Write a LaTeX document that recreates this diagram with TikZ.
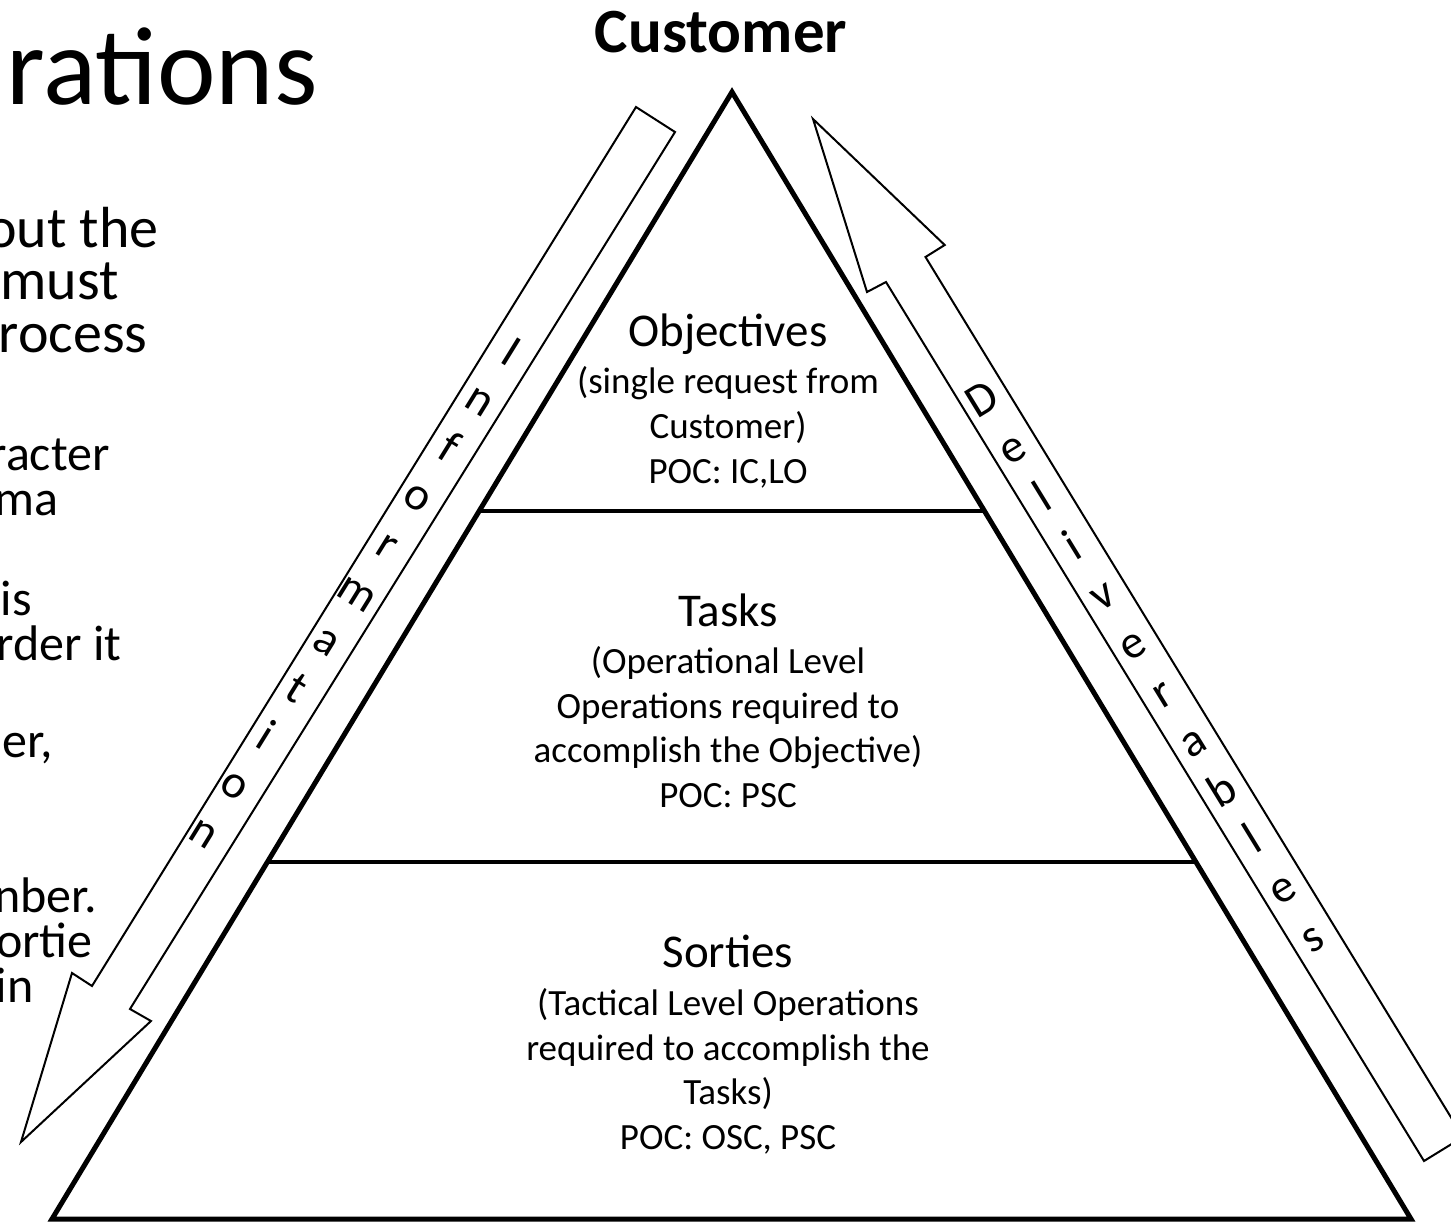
\documentclass[tikz,border=0pt]{standalone}
\usepackage{fontspec}
\setmainfont{Carlito}
\usetikzlibrary{calc}
\begin{document}
\begin{tikzpicture}[x=0.5pt,y=-0.5pt,
  tri/.style={line width=2.5pt, line join=miter},
  divider/.style={line width=2.2pt},
  arrowshape/.style={line width=1pt, line join=miter},
  slidetitle/.style={font=\fontsize{55.5}{60}\selectfont, anchor=base east, inner sep=0pt},
  lvlone/.style={font=\fontsize{29}{34}\selectfont, anchor=base east, inner sep=0pt},
  lvltwo/.style={font=\fontsize{25}{30}\selectfont, anchor=base east, inner sep=0pt},
  head/.style={font=\bfseries\fontsize{31.5}{36}\selectfont, anchor=base, inner sep=0pt},
  blocktitle/.style={font=\fontsize{23.5}{28}\selectfont, anchor=base, inner sep=0pt},
  blockline/.style={font=\fontsize{18.5}{22}\selectfont, anchor=base, inner sep=0pt},
  letter/.style={font=\fontsize{23.5}{27}\selectfont, inner sep=0pt, text height=1.1ex, text depth=0pt, anchor=center}
]
\useasboundingbox (0,0) rectangle (1451,1222);
\clip (0,0) rectangle (1451,1222);

% slide text fragments (cut at left edge)
\node[slidetitle] (t0) at (318,104) {rations};
\node[lvlone] (p1a) at (159,247) {out the};
\node[lvlone] (p1b) at (119,299) {must};
\node[lvlone] (p1c) at (148,352) {rocess};
\node[lvltwo] (p2a) at (110,470) {racter};
\node[lvltwo] (p2b) at (59,515) {ma};
\node[lvltwo] (p3a) at (32,615) {is};
\node[lvltwo] (p3b) at (122,660) {rder it};
\node[lvltwo] (p4a) at (53,757) {er,};
\node[lvltwo] (p5a) at (97,912) {nber.};
\node[lvltwo] (p5b) at (93,957) {ortie};
\node[lvltwo] (p5c) at (34,1002) {in};

% pyramid
\coordinate (apex) at (732,92);
\coordinate (bl) at (52,1219);
\coordinate (br) at (1411,1219);
\draw[tri] (apex) -- (bl) -- (br) -- cycle;
\coordinate (d1l) at ($(apex)!{(511-92)/(1219-92)}!(bl)$);
\coordinate (d1r) at ($(apex)!{(511-92)/(1219-92)}!(br)$);
\coordinate (d2l) at ($(apex)!{(862-92)/(1219-92)}!(bl)$);
\coordinate (d2r) at ($(apex)!{(862-92)/(1219-92)}!(br)$);
\draw[divider] (d1l) -- (d1r);
\draw[divider] (d2l) -- (d2r);

\node[head] (cust) at (721,52) {Customer};

\node[blocktitle] (obj) at (728,346) {Objectives};
\node[blockline] (obj1) at (728,393) {(single request from};
\node[blockline] (obj2) at (728,438) {Customer)};
\node[blockline] (obj3) at (728,483) {POC: IC,LO};

\node[blocktitle] (tsk) at (728,626) {Tasks};
\node[blockline] (tsk1) at (728,673) {(Operational Level};
\node[blockline] (tsk2) at (728,718) {Operations required to};
\node[blockline] (tsk3) at (728,762) {accomplish the Objective)};
\node[blockline] (tsk4) at (728,807) {POC: PSC};

\node[blocktitle] (srt) at (728,967) {Sorties};
\node[blockline] (srt1) at (728,1015) {(Tactical Level Operations};
\node[blockline] (srt2) at (728,1060) {required to accomplish the};
\node[blockline] (srt3) at (728,1104) {Tasks)};
\node[blockline] (srt4) at (728,1149) {POC: OSC, PSC};

% Information arrow (down-left)
\coordinate (la1) at (636,107);
\coordinate (la2) at (92,986);
\coordinate (la3) at (72,973);
\coordinate (latip) at (21,1142);
\coordinate (la5) at (151,1021);
\coordinate (la6) at (130,1009);
\coordinate (la7) at (675,132);
\draw[arrowshape] (la1) -- (la2) -- (la3) -- (latip) -- (la5) -- (la6) -- (la7) -- cycle;
\foreach \ch [count=\k from 0] in {I,n,f,o,r,m,a,t,i,o,n}
  \node[letter, rotate=-31.75] (info\k) at ($(506,360)+\k*(-30.6,48)$) {\ch};

% Deliverables arrow (up-left)
\coordinate (ratip) at (813,119);
\coordinate (ra2) at (867,292);
\coordinate (ra3) at (886,282);
\coordinate (ra4) at (1424,1161);
\coordinate (ra5) at (1463,1137);
\coordinate (ra6) at (925.5,257);
\coordinate (ra7) at (944.7,245);
\draw[arrowshape] (ratip) -- (ra2) -- (ra3) -- (ra4) -- (ra5) -- (ra6) -- (ra7) -- cycle;
\foreach \ch [count=\k from 0] in {D,e,l,i,v,e,r,a,b,l,e,s}
  \node[letter, rotate=31.5] (deliv\k) at ($(987,407)+\k*(30,48.9)$) {\ch};
\end{tikzpicture}
\end{document}
